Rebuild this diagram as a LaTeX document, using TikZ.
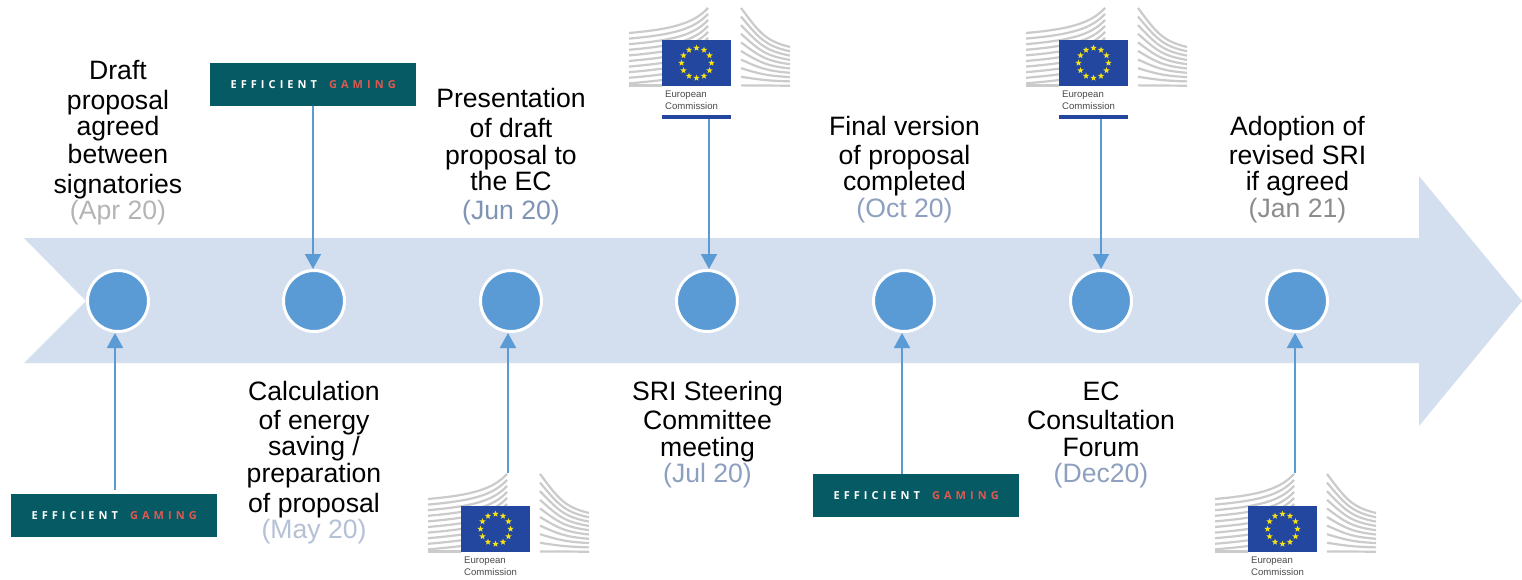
\documentclass[tikz,border=0pt]{standalone}
\usepackage{fontspec}
\setmainfont{Liberation Sans}
\newfontfamily\logofont[LetterSpace=37]{Open Sans}
\usetikzlibrary{arrows.meta,shapes.geometric,calc}
\definecolor{band}{HTML}{D3DEEF}
\definecolor{dot}{HTML}{5B9BD5}
\definecolor{teal}{HTML}{055A63}
\definecolor{gamered}{HTML}{E0584F}
\definecolor{euflag}{HTML}{23479F}
\definecolor{eustar}{HTML}{F7E314}
\definecolor{bld}{HTML}{CBCBCB}
\definecolor{ectext}{HTML}{4A4A4A}
\tikzset{
  x=1pt,y=-1pt,
  milestone/.style={circle,fill=dot,draw=white,line width=3pt,minimum size=61pt,inner sep=0pt},
  link/.style={draw=dot,line width=1.8pt,-{Triangle[length=15pt,width=16pt]}},
  caption/.style={align=center,inner sep=0pt,anchor=north,font=\fontsize{26.6}{27.5}\selectfont},
  egbox/.style={fill=teal,minimum width=206pt,minimum height=43pt,inner sep=0pt,font=\fontsize{11}{13}\logofont\bfseries\color{white}},
  flagbox/.style={fill=euflag,minimum width=69pt,minimum height=46pt,inner sep=0pt},
  ectxt/.style={anchor=west,inner sep=0pt,text=ectext,font=\fontsize{9.6}{11}\selectfont},
  bline/.style={draw=bld,line width=2.2pt},
}
\newcommand{\datec}[2]{\textcolor[HTML]{#1}{#2}}
% European Commission logo, origin = top-left of drawing (629,8)
\newcommand{\eclogo}[3]{%
  \begin{scope}[shift={(#1,#2)}]
    \foreach \i in {0,...,9}{
      \pgfmathsetmacro\yl{25+\i*5.6}
      \pgfmathsetmacro\yr{\i*6}
      \pgfmathsetmacro\cy{\yl-4}
      \pgfmathsetmacro\dy{\yr+15}
      \draw[bline] (0,\yl) .. controls (45,\cy) and (65,\dy) .. (79,\yr);
    }
    \draw[bline] (0,77.5) -- (33,77.5);
    \foreach \i in {0,...,9}{
      \pgfmathsetmacro\yl{\i*8.6}
      \pgfmathsetmacro\yr{39+\i*4.3}
      \pgfmathsetmacro\cy{(1-\i/9)*24+\i/9*77.4}
      \pgfmathsetmacro\dy{(1-\i/9)*33+\i/9*77.6}
      \draw[bline] (112,\yl) .. controls (130,\cy) and (136,\dy) .. (161,\yr);
    }
    \node[flagbox,anchor=north west] (#3flag) at (33,32) {};
    \foreach \a in {0,30,...,330}{
      \node[star,star points=5,star point ratio=2.4,fill=eustar,inner sep=0pt,minimum size=6.6pt] at ($(67.5,55)+(\a:15pt)$) {};
    }
    \node[ectxt] (#3a) at (36,87.5) {European};
    \node[ectxt] (#3b) at (36,98.5) {Commission};
  \end{scope}}
\newcommand{\eglogo}[3]{%
  \node[egbox,anchor=north west] (#3) at (#1,#2) {\raisebox{-1pt}{EFFICIENT\hspace{5pt} \textcolor{gamered}{GAMING}}};}
\begin{document}
\begin{tikzpicture}
\useasboundingbox (0,0) rectangle (1522,580);
\fill[white] (0,0) rectangle (1522,580);
\fill[band] (24,238) -- (1419,238) -- (1419,176) -- (1522,301) -- (1419,426) -- (1419,363) -- (24,363) -- (86,301) -- cycle;
\foreach \n/\x in {n1/118,n2/314,n3/511,n4/707,n5/904,n6/1101,n7/1297}
  \node[milestone] (\n) at (\x,301) {};

\eclogo{629}{8}{eca}
\eclogo{1026}{8}{ecb}
\eclogo{428}{474}{ecc}
\eclogo{1215}{474}{ecd}
\fill[euflag] (662,115) rectangle (731,119);
\fill[euflag] (1059,115) rectangle (1128,119);

\eglogo{11}{494}{ega}
\eglogo{210}{63}{egb}
\eglogo{813}{474}{egc}

\coordinate (s1) at (115,490);
\coordinate (s2) at (313,106);
\coordinate (s3) at (508,473);
\coordinate (s4) at (709,119);
\coordinate (s5) at (902,474);
\coordinate (s6) at (1101,119);
\coordinate (s7) at (1295,473);
\draw[link] (s1) -- (s1 |- n1.south);
\draw[link] (s2) -- (s2 |- n2.north);
\draw[link] (s3) -- (s3 |- n3.south);
\draw[link] (s4) -- (s4 |- n4.north);
\draw[link] (s5) -- (s5 |- n5.south);
\draw[link] (s6) -- (s6 |- n6.north);
\draw[link] (s7) -- (s7 |- n7.south);

\node[caption] (t1) at (118,60.5) {Draft\\[2.5pt]proposal\\[-1.5pt]agreed\\[0pt]between\\[2.5pt]signatories\\[-1.5pt]\datec{B4B4B4}{(Apr 20)}};
\node[caption] (t2) at (314,381) {Calculation\\[1.5pt]of energy\\[-1.5pt]saving /\\[0pt]preparation\\[2.5pt]of proposal\\[-1.5pt]\datec{B5C1D6}{(May 20)}};
\node[caption] (t3) at (511,88.5) {Presentation\\[2.5pt]of draft\\[-0.5pt]proposal to\\[-1.5pt]the EC\\[1.5pt]\datec{7F93B5}{(Jun 20)}};
\node[caption] (t4) at (707.5,381) {SRI Steering\\[1.5pt]Committee\\[-0.5pt]meeting\\[-1.5pt]\datec{8EA0C0}{(Jul 20)}};
\node[caption] (t5) at (904.5,116.5) {Final version\\[1.5pt]of proposal\\[-1.5pt]completed\\[-0.5pt]\datec{8EA0C0}{(Oct 20)}};
\node[caption] (t6) at (1101,381.5) {EC\\[1.5pt]Consultation\\[-0.5pt]Forum\\[-1.5pt]\datec{8EA0C0}{(Dec20)}};
\node[caption] (t7) at (1297.5,116.5) {Adoption of\\[1.5pt]revised SRI\\[-1.5pt]if agreed\\[-0.5pt]\datec{8C8C8C}{(Jan 21)}};
\end{tikzpicture}
\end{document}
